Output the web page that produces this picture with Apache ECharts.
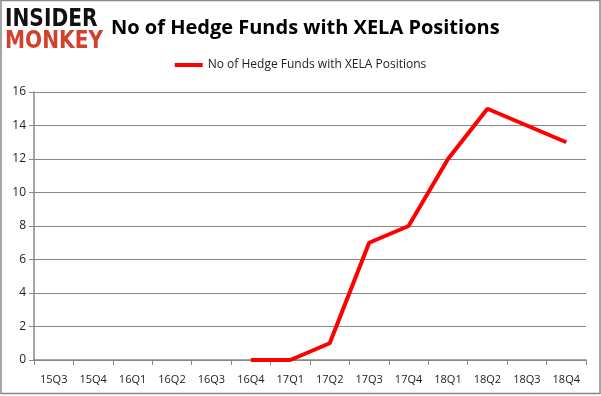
<!DOCTYPE html>
<html><head><meta charset="utf-8">
<script src="https://cdn.jsdelivr.net/npm/echarts@6/dist/echarts.min.js"></script>
<style>html,body{margin:0;padding:0;background:#fff}#c{width:601px;height:396px}</style>
</head><body><div id="c"></div>
<script>
const categories = ['15Q3','15Q4','16Q1','16Q2','16Q3','16Q4','17Q1','17Q2','17Q3','17Q4','18Q1','18Q2','18Q3','18Q4'];
const seriesName = 'No of Hedge Funds with XELA Positions';
const values = [null,null,null,null,null,0,0,1,7,8,12,15,14,13];
const yTicks = {min:0,max:16,interval:2};

const chart = echarts.init(document.getElementById('c'), null, {renderer:'canvas'});
chart.setOption({
  animation:false,
  backgroundColor:'#fff',
  title:{text:'No of Hedge Funds with XELA Positions',left:106,top:13,
    textStyle:{fontFamily:'Open Sans',fontWeight:'bold',fontSize:20,color:'#000'}},
  legend:{data:[seriesName],top:54,left:'center',itemWidth:28,itemHeight:4,itemGap:5,
    icon:'rect',
    textStyle:{fontFamily:'Open Sans',fontSize:12,color:'#222'}},
  graphic:[
    {type:'rect',shape:{x:1,y:0.5,width:599,height:393},style:{fill:'none',stroke:'#888',lineWidth:1.5},silent:true},
    {type:'text',x:5,y:7,scaleX:1.12,scaleY:1.42,style:{text:'INSIDER',fontFamily:'DejaVu Sans',fontWeight:'bold',fontSize:18,fill:'#111'}},
    {type:'text',x:5,y:29,scaleX:1.12,scaleY:1.42,style:{text:'MONKEY',fontFamily:'DejaVu Sans',fontWeight:'bold',fontSize:18,fill:'#d2412c'}}
  ],
  grid:{left:34,right:15,top:92,bottom:36},
  xAxis:{type:'category',data:categories,boundaryGap:true,
    axisLine:{lineStyle:{color:'#888',width:1.5}},
    axisTick:{show:true,length:5,lineStyle:{color:'#888'}},
    axisLabel:{fontFamily:'Open Sans',fontSize:11,color:'#222',margin:14}},
  yAxis:{type:'value',min:yTicks.min,max:yTicks.max,interval:yTicks.interval,
    axisLine:{show:true,lineStyle:{color:'#888',width:1.5}},
    axisTick:{show:true,length:5,lineStyle:{color:'#888'}},
    splitLine:{lineStyle:{color:'#888',width:1}},
    axisLabel:{fontFamily:'Open Sans',fontSize:12,color:'#222',margin:8}},
  series:[{name:seriesName,type:'line',data:values,showSymbol:false,symbol:'none',
    lineStyle:{color:'#ff0000',width:4},itemStyle:{color:'#ff0000'},connectNulls:false}]
});
</script></body></html>
